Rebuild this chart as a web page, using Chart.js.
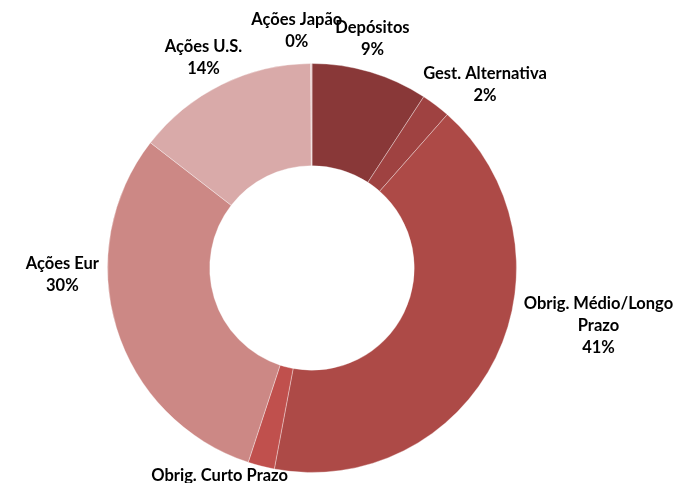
<!DOCTYPE html>
<html>
<head>
<meta charset="utf-8">
<script src="https://cdn.jsdelivr.net/npm/chart.js@4/dist/chart.umd.min.js"></script>
<style>
  html, body { margin: 0; padding: 0; background: #fff; }
  #wrap { width: 680px; height: 483px; position: relative; }
</style>
</head>
<body>
<div id="wrap"><canvas id="js-chartjs-carteira"></canvas></div>
<script>
// Categories and values (share of portfolio, %)
const categories = ['Depósitos', 'Gest. Alternativa', 'Obrig. Médio/Longo Prazo', 'Obrig. Curto Prazo', 'Ações Eur', 'Ações U.S.', 'Ações Japão'];
const values = [9.2, 2.3, 41.45, 2.1, 30.45, 14.4, 0.1];

// Slice colours
const sliceColors = ['#893838', '#9f4241', '#ad4a47', '#c0504d', '#cc8885', '#d9aaa9', '#e6c6c5'];

// Label nudges the way Excel placed them: extra clockwise turn (deg) and radial pull (px)
const labelTurn = [-1.8, 6, -14.6, 8.5, 15.5, -1, -3.5];
const labelPull = [-6, -18.5, 0, -22, 0, -13, 0];

const labelFont = 'bold 16.5px Lato, "Open Sans", sans-serif';
const lineHeight = 22;
const labelGap = 8;

function wrapText(ctx, text, maxWidth) {
  let words = text.split(' ');
  let lines = [];
  let line = '';
  words.forEach(function (w) {
    let test = line ? line + ' ' + w : w;
    if (ctx.measureText(test).width > maxWidth && line) {
      lines.push(line);
      line = w;
    } else {
      line = test;
    }
  });
  lines.push(line);
  return lines;
}

// Draws category + percentage outside each slice
const outsideLabels = {
  id: 'outsideLabels',
  afterDraw(chart) {
    const ctx = chart.ctx;
    const meta = chart.getDatasetMeta(0);
    const total = values.reduce(function (a, b) { return a + b; }, 0);
    ctx.save();
    ctx.font = labelFont;
    ctx.fillStyle = '#000';
    ctx.textAlign = 'center';
    ctx.textBaseline = 'middle';
    meta.data.forEach(function (arc, i) {
      let lines = wrapText(ctx, categories[i], 160);
      lines.push(Math.round(values[i] / total * 100) + '%');
      let w = Math.max.apply(null, lines.map(function (l) { return ctx.measureText(l).width; })) / 2;
      let h = lines.length * lineHeight / 2;
      let a = (arc.startAngle + arc.endAngle) / 2 + labelTurn[i] * Math.PI / 180;
      let ux = Math.cos(a), uy = Math.sin(a);
      let d = arc.outerRadius + labelGap + labelPull[i] + w * Math.abs(ux) + h * Math.abs(uy);
      let cx = arc.x + d * ux;
      let cy = arc.y + d * uy;
      lines.forEach(function (l, k) {
        ctx.fillText(l, cx, cy - h + lineHeight * (k + 0.5));
      });
    });
    ctx.restore();
  }
};

let chartCarteira = new Chart(document.getElementById('js-chartjs-carteira'), {
  type: 'doughnut',
  data: {
    labels: categories,
    datasets: [{
      data: values,
      backgroundColor: sliceColors,
      borderColor: 'rgba(255, 255, 255, 0.35)',
      borderWidth: 1
    }]
  },
  options: {
    responsive: true,
    maintainAspectRatio: false,
    animation: false,
    cutout: '50%',
    layout: {
      padding: { top: 63, bottom: 10, left: 107, right: 163 }
    },
    plugins: {
      legend: { display: false },
      tooltip: { enabled: false }
    }
  },
  plugins: [outsideLabels]
});
</script>
</body>
</html>
